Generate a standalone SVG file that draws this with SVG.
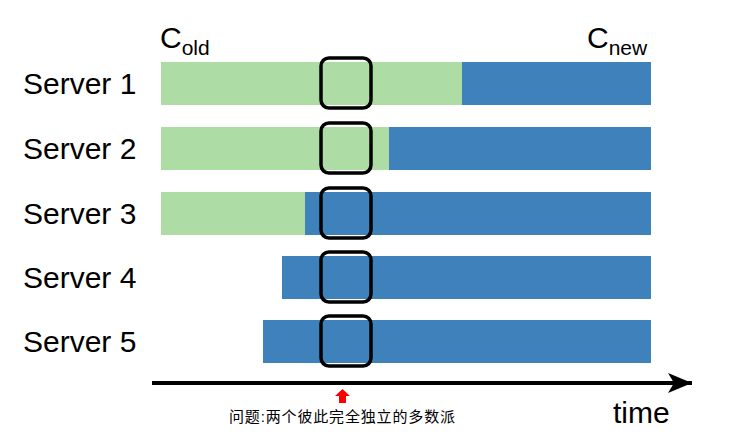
<svg xmlns="http://www.w3.org/2000/svg" width="739" height="445" viewBox="0 0 739 445">
<style>
.lbl{font-family:"Liberation Sans",Arial,sans-serif;font-size:30px;fill:#000}
.g{fill:#addca5}
.b{fill:#3f81bb}
.sq{fill:none;stroke:#000;stroke-width:3.5}
</style>
<defs>
<marker id="ah" markerWidth="26" markerHeight="22" refX="24" refY="11" orient="auto" markerUnits="userSpaceOnUse" viewBox="0 0 26 22">
<path d="M0,1 L24,11 L0,21 L6,11 Z" fill="#000"/>
</marker>
</defs>
<rect width="739" height="445" fill="#fff"/>
<g id="headers">
<text class="lbl" x="160" y="48" font-size="29">C<tspan font-size="21" dy="7">old</tspan></text>
<text class="lbl" x="587" y="48" font-size="29">C<tspan font-size="21" dy="7">new</tspan></text>
</g>
<g id="server1">
<text class="lbl" x="23" y="94">Server 1</text>
<rect class="g" x="161" y="62" width="301" height="43"/>
<rect class="b" x="462" y="62" width="189" height="43"/>
</g>
<g id="server2">
<text class="lbl" x="23" y="159">Server 2</text>
<rect class="g" x="161" y="127" width="228" height="43"/>
<rect class="b" x="389" y="127" width="262" height="43"/>
</g>
<g id="server3">
<text class="lbl" x="23" y="224">Server 3</text>
<rect class="g" x="161" y="192" width="144" height="43"/>
<rect class="b" x="305" y="192" width="346" height="43"/>
</g>
<g id="server4">
<text class="lbl" x="23" y="288">Server 4</text>
<rect class="b" x="282" y="256" width="369" height="43"/>
</g>
<g id="server5">
<text class="lbl" x="23" y="352">Server 5</text>
<rect class="b" x="263" y="320" width="388" height="43"/>
</g>
<g id="window">
<rect class="sq" x="321" y="58" width="50" height="50" rx="8"/>
<rect class="sq" x="321" y="123" width="50" height="50" rx="8"/>
<rect class="sq" x="321" y="188" width="50" height="50" rx="8"/>
<rect class="sq" x="321" y="252" width="50" height="50" rx="8"/>
<rect class="sq" x="321" y="316" width="50" height="50" rx="8"/>
</g>
<g id="connectors">
<line x1="152" y1="383" x2="692" y2="383" stroke="#000" stroke-width="4" marker-end="url(#ah)"/>
<path d="M342.5,389 L350,396 L346,396 L346,403 L339,403 L339,396 L335,396 Z" fill="#f00"/>
</g>
<g id="notes">
<text class="lbl" x="613" y="423" font-size="29.5">time</text>
<text x="229" y="422" font-family="'Liberation Sans','Noto Sans CJK SC',sans-serif" font-size="15" fill="#000" textLength="226" lengthAdjust="spacing">问题:两个彼此完全独立的多数派</text>
</g>
</svg>
